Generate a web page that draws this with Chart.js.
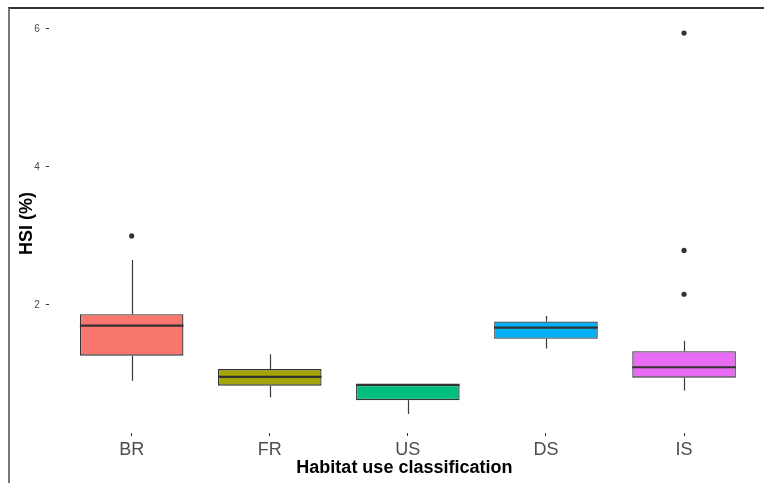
<!DOCTYPE html>
<html>
<head>
<meta charset="utf-8">
<script src="https://cdn.jsdelivr.net/npm/chart.js@4/dist/chart.umd.min.js"></script>
<style>
  html, body { margin: 0; padding: 0; background: #fff; overflow: hidden; }
  #wrap { position: relative; width: 764px; height: 483px; }
  #frame { position: absolute; left: 8px; top: 7px; width: 780px; height: 500px;
           border-top: 2px solid #333; border-left: 2px solid #777; pointer-events: none; }
  canvas { position: absolute; left: 0; top: 0; }
</style>
</head>
<body>
<div id="wrap">
  <canvas id="c" width="764" height="483"></canvas>
  <div id="frame"></div>
</div>
<script>
// ---- data ----
const categories   = ['BR', 'FR', 'US', 'DS', 'IS'];
const whiskerLow   = [0.90, 0.66, 0.42, 1.37, 0.76];
const q1           = [1.265, 0.83, 0.62, 1.51, 0.946];
const median       = [1.70, 0.957, 0.84, 1.67, 1.097];
const q3           = [1.865, 1.07, 0.84, 1.76, 1.33];
const whiskerHigh  = [2.65, 1.285, 0.84, 1.84, 1.48];
const outlierCat   = ['BR', 'IS', 'IS', 'IS'];
const outlierValue = [3.00, 2.155, 2.79, 5.94];
const yTicks       = [2, 4, 6];
const fillColors   = ['#F8766D', '#A3A500', '#00BF7D', '#00B0F6', '#E76BF3'];

const boxData = categories.map((c, i) => ({ x: i + 1, y: [q1[i], q3[i]] }));
const outData = outlierCat.map((c, i) => ({ x: categories.indexOf(c) + 1, y: outlierValue[i] }));

const boxPlugin = {
  id: 'boxParts',
  beforeDatasetsDraw(chart) {
    const ctx = chart.ctx, y = chart.scales.y;
    const meta = chart.getDatasetMeta(0);
    ctx.save();
    ctx.strokeStyle = '#3a3a3a';
    ctx.lineWidth = 1.2;
    meta.data.forEach((bar, i) => {
      const x = Math.round(bar.x) + 0.5;
      ctx.beginPath();
      ctx.moveTo(x, y.getPixelForValue(q3[i]));
      ctx.lineTo(x, y.getPixelForValue(whiskerHigh[i]));
      ctx.moveTo(x, y.getPixelForValue(q1[i]));
      ctx.lineTo(x, y.getPixelForValue(whiskerLow[i]));
      ctx.stroke();
    });
    ctx.restore();
  },
  afterDatasetDraw(chart, args) {
    if (args.index !== 0) return;
    const ctx = chart.ctx, y = chart.scales.y;
    const meta = chart.getDatasetMeta(0);
    ctx.save();
    ctx.strokeStyle = '#333';
    ctx.lineWidth = 2.2;
    meta.data.forEach((bar, i) => {
      const py = y.getPixelForValue(median[i]);
      ctx.beginPath();
      ctx.moveTo(bar.x - bar.width / 2, py);
      ctx.lineTo(bar.x + bar.width / 2, py);
      ctx.stroke();
    });
    ctx.restore();
  }
};

new Chart(document.getElementById('c'), {
  type: 'bar',
  data: {
    datasets: [
      {
        type: 'bar',
        data: boxData,
        backgroundColor: fillColors,
        borderColor: '#333',
        borderWidth: 1.3,
        borderSkipped: false,
        barPercentage: 0.75,
        categoryPercentage: 1.0,
        order: 2
      },
      {
        type: 'scatter',
        data: outData,
        pointRadius: 2.6,
        pointBackgroundColor: '#333',
        pointBorderWidth: 0,
        showLine: false,
        order: 1
      }
    ]
  },
  options: {
    responsive: false,
    animation: false,
    layout: { padding: { left: 0, right: 0, top: 14, bottom: 0 } },
    plugins: { legend: { display: false }, tooltip: { enabled: false } },
    scales: {
      x: {
        type: 'linear',
        offset: false,
        min: 0.4,
        max: 5.55,
        afterBuildTicks: (s) => { s.ticks = categories.map((c, i) => ({ value: i + 1 })); },
        afterFit: (s) => { s.height = 50; },
        ticks: {
          callback: (v) => categories[v - 1] || '',
          color: '#4d4d4d',
          font: { family: 'Liberation Sans, Arial, sans-serif', size: 18 },
          padding: 3,
          maxRotation: 0,
          autoSkip: false
        },
        grid: { offset: false, drawOnChartArea: false, drawTicks: true, tickLength: 3, tickColor: '#333', tickWidth: 1 },
        border: { display: false },
        title: {
          display: true,
          text: 'Habitat use classification',
          color: '#000',
          font: { family: 'Liberation Sans, Arial, sans-serif', size: 18, weight: 'bold' },
          padding: { top: 0, bottom: 4 }
        }
      },
      y: {
        min: 0.144,
        max: 6.216,
        afterBuildTicks: (s) => { s.ticks = yTicks.map(v => ({ value: v })); },
        afterFit: (s) => { s.width = 48.8; },
        ticks: {
          color: '#4d4d4d',
          font: { family: 'Liberation Sans, Arial, sans-serif', size: 10 },
          padding: 6
        },
        grid: { drawOnChartArea: false, drawTicks: true, tickLength: 3, tickColor: '#333', tickWidth: 1 },
        border: { display: false },
        title: {
          display: true,
          text: 'HSI (%)',
          color: '#000',
          font: { family: 'Liberation Sans, Arial, sans-serif', size: 18, weight: 'bold' },
          padding: { top: 16, bottom: 0 }
        }
      }
    }
  },
  plugins: [boxPlugin]
});
</script>
</body>
</html>
